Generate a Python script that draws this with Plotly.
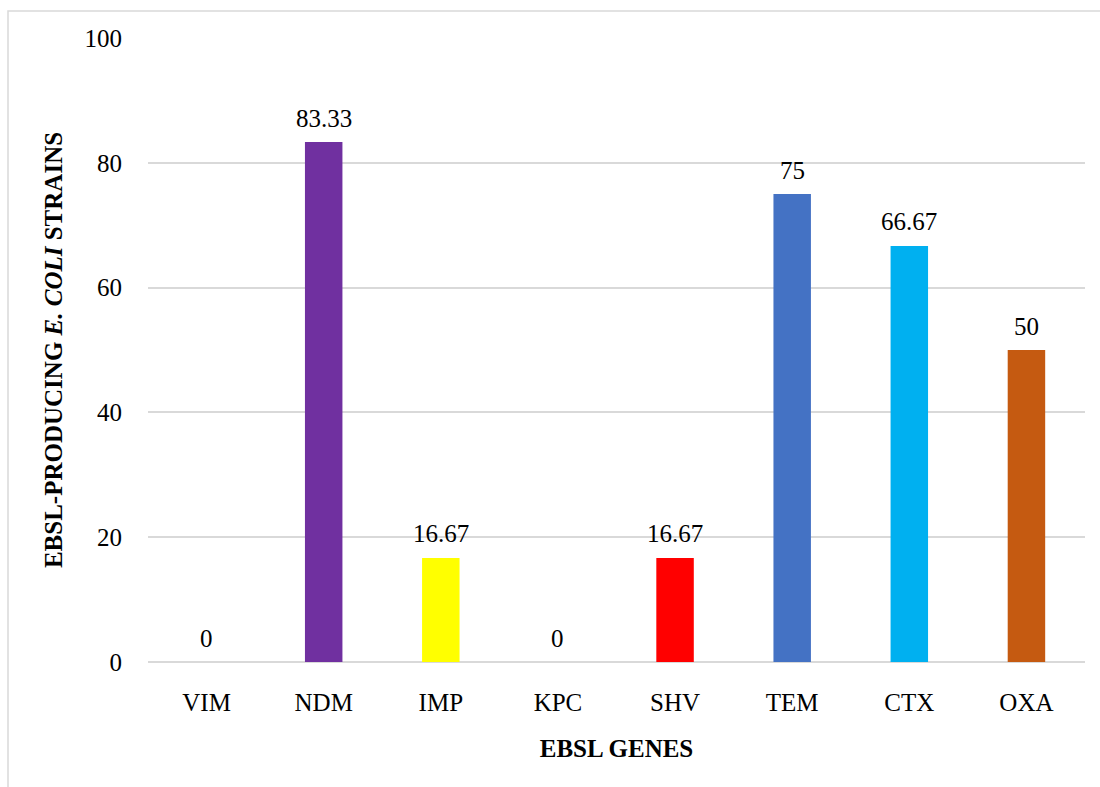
import plotly.graph_objects as go

# ESBL gene prevalence among producing E. coli strains (%)
genes = ["VIM", "NDM", "IMP", "KPC", "SHV", "TEM", "CTX", "OXA"]
prevalence = [0, 83.33, 16.67, 0, 16.67, 75, 66.67, 50]
bar_colors = ["#7F7F7F", "#7030A0", "#FFFF00", "#7F7F7F", "#FF0000",
              "#4472C4", "#00B0F0", "#C55A11"]
labels = ["0", "83.33", "16.67", "0", "16.67", "75", "66.67", "50"]
y_ticks = [0, 20, 40, 60, 80, 100]

FONT = "Liberation Serif, Times New Roman, serif"
FS = 25

fig = go.Figure(
    go.Bar(
        x=genes,
        y=prevalence,
        marker=dict(color=bar_colors, line=dict(width=0)),
        width=0.32,
        hoverinfo="x+y",
    )
)

# value labels above each bar
for g, v, t in zip(genes, prevalence, labels):
    fig.add_annotation(
        x=g, y=v, text=t, showarrow=False,
        yanchor="middle", yshift=24,
        font=dict(family=FONT, size=FS, color="#000000"),
    )

fig.update_layout(
    width=1100,
    height=787,
    margin=dict(l=148, r=15, t=38, b=125),
    paper_bgcolor="#FFFFFF",
    plot_bgcolor="#FFFFFF",
    font=dict(family=FONT, size=FS, color="#000000"),
    showlegend=False,
    xaxis=dict(
        showgrid=False,
        showline=False,
        ticks="outside",
        ticklen=18,
        tickcolor="rgba(0,0,0,0)",
        tickfont=dict(family=FONT, size=FS),
        title=dict(text="<b>EBSL GENES</b>", font=dict(family=FONT, size=FS), standoff=24),
    ),
    yaxis=dict(
        range=[0, 100],
        tickvals=y_ticks,
        showgrid=True,
        gridcolor="#D9D9D9",
        gridwidth=1.5,
        zeroline=True,
        zerolinecolor="#D9D9D9",
        zerolinewidth=1.5,
        showline=False,
        ticks="outside",
        ticklen=20,
        tickcolor="rgba(0,0,0,0)",
        tickfont=dict(family=FONT, size=FS),
        title=dict(
            text="<b>EBSL-PRODUCING <i>E. COLI</i> STRAINS</b>",
            font=dict(family=FONT, size=FS),
            standoff=14,
        ),
    ),
)

# light frame around the chart area
fig.add_shape(
    type="rect", xref="paper", yref="paper",
    x0=-140 / 937, x1=1.2, y0=-0.3, y1=1 + 27 / 624,
    line=dict(color="#D9D9D9", width=1.5),
    fillcolor="rgba(0,0,0,0)",
    layer="below",
)

fig.write_html("out.html")
